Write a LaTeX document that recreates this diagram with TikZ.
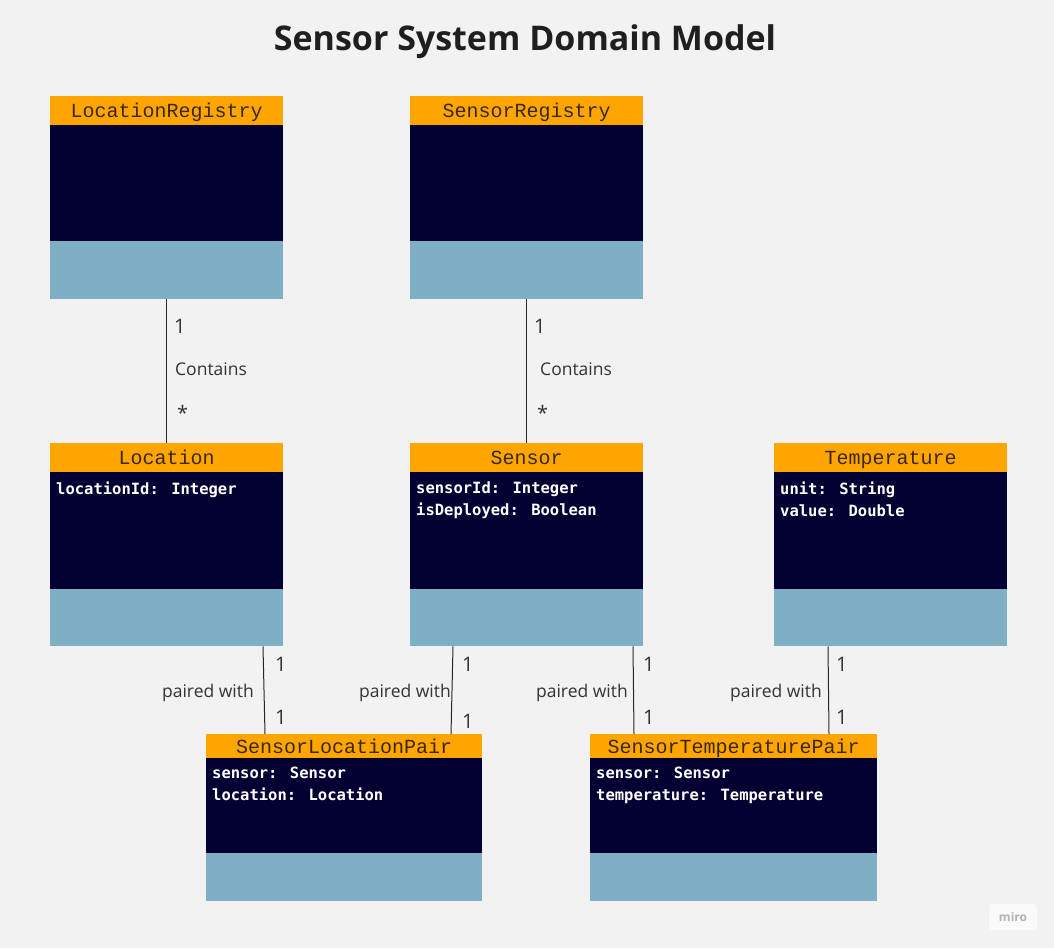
\documentclass[tikz,border=0pt]{standalone}
\usepackage{fontspec}
\setmainfont{Open Sans}
\newfontfamily\monofont{DejaVu Sans Mono}
\newfontfamily\hdrfont{Liberation Mono}
\usetikzlibrary{positioning,calc}
\definecolor{bgc}{HTML}{F2F2F2}
\definecolor{hdr}{HTML}{FFA500}
\definecolor{dark}{HTML}{020033}
\definecolor{light}{HTML}{7FAFC5}
\definecolor{hdrtext}{HTML}{3A2800}
\definecolor{lbl}{HTML}{333333}
\tikzset{
  hdrbox/.style={fill=hdr, draw=none, anchor=north west, inner sep=0pt, minimum height=#1, text=hdrtext, text depth=0pt, font=\hdrfont\fontsize{20}{22}\selectfont},
  darkbox/.style={fill=dark, draw=none, anchor=north west, inner sep=0pt, text=white},
  lightbox/.style={fill=light, draw=none, anchor=north west, inner sep=0pt},
  attr/.style={anchor=north west, text=white, inner sep=0pt, align=left, font=\monofont\bfseries\fontsize{15.5}{22}\selectfont},
  conn/.style={draw=black!85, line width=1pt},
  mult/.style={text=lbl, inner sep=0pt, font=\fontsize{20}{22}\selectfont},
  lab/.style={text=lbl, inner sep=0pt, font=\fontsize{17.5}{20}\selectfont},
}
\begin{document}
\begin{tikzpicture}[x=1pt,y=-1pt]
\fill[bgc] (0,0) rectangle (1054,948);
\useasboundingbox (0,0) rectangle (1054,948);
\node[font=\bfseries\fontsize{34}{40}\selectfont, text=black!88] (title) at (525,42) {Sensor System Domain Model};

% LocationRegistry
\node[hdrbox=29pt, minimum width=233pt] (LRh) at (50,96) {LocationRegistry};
\node[darkbox, minimum width=233pt, minimum height=116pt] (LRd) at (50,125) {};
\node[lightbox, minimum width=233pt, minimum height=58pt] (LRb) at (50,241) {};
% SensorRegistry
\node[hdrbox=29pt, minimum width=233pt] (SRh) at (410,96) {SensorRegistry};
\node[darkbox, minimum width=233pt, minimum height=116pt] (SRd) at (410,125) {};
\node[lightbox, minimum width=233pt, minimum height=58pt] (SRb) at (410,241) {};
% Location
\node[hdrbox=29pt, minimum width=233pt] (Lh) at (50,443) {Location};
\node[darkbox, minimum width=233pt, minimum height=117pt] (Ld) at (50,472) {};
\node[attr] (La) at (56,482) {locationId: Integer};
\node[lightbox, minimum width=233pt, minimum height=57pt] (Lb) at (50,589) {};
% Sensor
\node[hdrbox=29pt, minimum width=233pt] (Sh) at (410,443) {Sensor};
\node[darkbox, minimum width=233pt, minimum height=117pt] (Sd) at (410,472) {};
\node[attr] (Sa) at (416,482) {sensorId: Integer\\isDeployed: Boolean};
\node[lightbox, minimum width=233pt, minimum height=57pt] (Sb) at (410,589) {};
% Temperature
\node[hdrbox=29pt, minimum width=233pt] (Th) at (774,443) {Temperature};
\node[darkbox, minimum width=233pt, minimum height=117pt] (Td) at (774,472) {};
\node[attr] (Ta) at (780,482) {unit: String\\value: Double};
\node[lightbox, minimum width=233pt, minimum height=57pt] (Tb) at (774,589) {};
% SensorLocationPair
\node[hdrbox=24pt, minimum width=276pt] (SLh) at (206,734) {SensorLocationPair};
\node[darkbox, minimum width=276pt, minimum height=95pt] (SLd) at (206,758) {};
\node[attr] (SLa) at (212,767) {sensor: Sensor\\location: Location};
\node[lightbox, minimum width=276pt, minimum height=48pt] (SLb) at (206,853) {};
% SensorTemperaturePair
\node[hdrbox=24pt, minimum width=287pt] (STh) at (590,734) {SensorTemperaturePair};
\node[darkbox, minimum width=287pt, minimum height=95pt] (STd) at (590,758) {};
\node[attr] (STa) at (596,767) {sensor: Sensor\\temperature: Temperature};
\node[lightbox, minimum width=287pt, minimum height=48pt] (STb) at (590,853) {};

% Connectors
\draw[conn] (LRb.south -| 166,0) -- (Lh.north -| 166,0);
\node[mult, anchor=west] (m1) at (174,326) {1};
\node[lab, anchor=west] (c1) at (175,369) {Contains};
\node[mult, anchor=west] (s1) at (177,413) {*};

\draw[conn] (SRb.south) -- (Sh.north);
\node[mult, anchor=west] (m2) at (534,326) {1};
\node[lab, anchor=west] (c2) at (540,369) {Contains};
\node[mult, anchor=west] (s2) at (537,413) {*};

\coordinate (p1a) at ([xshift=213pt]Lb.south west);
\coordinate (p1b) at ([xshift=59pt]SLh.north west);
\draw[conn] (p1a) -- (p1b);
\node[mult, anchor=west] at (275,664) {1};
\node[lab, anchor=east] at (254,693) {paired with};
\node[mult, anchor=west] at (275,717) {1};

\coordinate (p2a) at ([xshift=43pt]Sb.south west);
\coordinate (p2b) at ([xshift=245pt]SLh.north west);
\draw[conn] (p2a) -- (p2b);
\node[mult, anchor=west] at (462,664) {1};
\node[lab, anchor=east] at (451,693) {paired with};
\node[mult, anchor=west] at (462,721) {1};

\coordinate (p3a) at ([xshift=223pt]Sb.south west);
\coordinate (p3b) at ([xshift=44pt]STh.north west);
\draw[conn] (p3a) -- (p3b);
\node[mult, anchor=west] at (643,664) {1};
\node[lab, anchor=east] at (628,693) {paired with};
\node[mult, anchor=west] at (643,717) {1};

\coordinate (p4a) at ([xshift=54pt]Tb.south west);
\coordinate (p4b) at ([xshift=239pt]STh.north west);
\draw[conn] (p4a) -- (p4b);
\node[mult, anchor=west] at (836,664) {1};
\node[lab, anchor=east] at (822,693) {paired with};
\node[mult, anchor=west] at (836,717) {1};

% miro watermark
\node[fill=white!60!bgc, rounded corners=3pt, text=black!30, font=\bfseries\fontsize{12}{14}\selectfont, minimum width=48pt, minimum height=26pt] (miro) at (1013,917) {miro};
\end{tikzpicture}
\end{document}
